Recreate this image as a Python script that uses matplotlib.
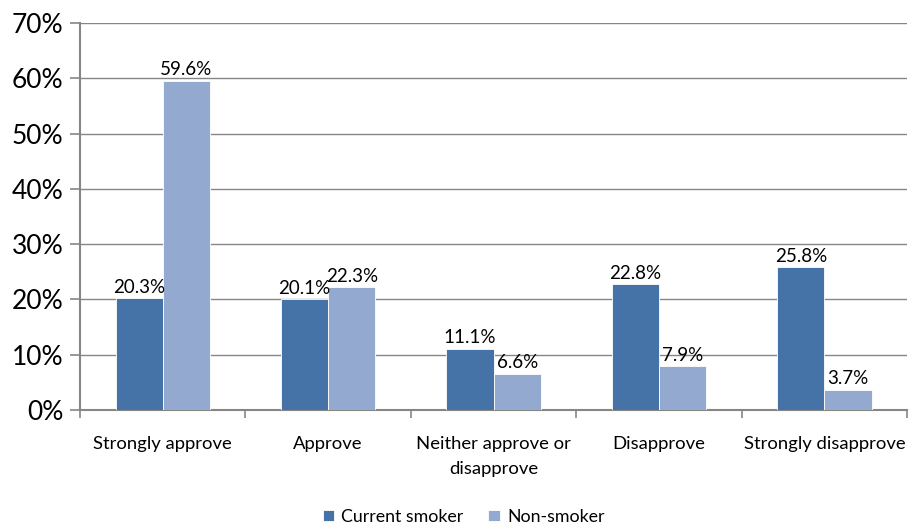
import matplotlib
matplotlib.use('Agg')
from matplotlib import pyplot as plt
import numpy as np

plt.rcParams['font.family'] = ['Lato', 'DejaVu Sans']

categories = ['Strongly approve', 'Approve', 'Neither approve or\ndisapprove',
              'Disapprove', 'Strongly disapprove']
current_smoker = [20.3, 20.1, 11.1, 22.8, 25.8]
non_smoker = [59.6, 22.3, 6.6, 7.9, 3.7]
y_ticks = [0, 10, 20, 30, 40, 50, 60, 70]

fig = plt.figure(figsize=(9.09, 5.26), dpi=100)
ax = fig.add_axes([0.088, 0.2205, 0.91, 0.7355])

x = np.arange(len(categories))
w = 0.285
dark = '#4573a7'
light = '#94a9d0'
b1 = ax.bar(x - w/2, current_smoker, w, color=dark, edgecolor='white', linewidth=0.6,
            label='Current smoker', zorder=3)
b2 = ax.bar(x + w/2, non_smoker, w, color=light, edgecolor='white', linewidth=0.6,
            label='Non-smoker', zorder=3)
for bars, vals in [(b1, current_smoker), (b2, non_smoker)]:
    for b, v in zip(bars, vals):
        ax.text(b.get_x() + b.get_width()/2, v + 0.4, '%.1f%%' % v,
                ha='center', va='bottom', fontsize=13.5, color='black')

ax.set_xlim(-0.5, len(categories) - 0.5)
ax.set_ylim(0, 70)
ax.set_yticks(y_ticks)
ax.set_yticklabels(['%d%%' % t for t in y_ticks], fontsize=19)
ax.set_xticks(x)
ax.set_xticklabels(categories, fontsize=13.3, linespacing=1.65)
ax.set_xticks(np.arange(-0.5, len(categories), 1), minor=True)
ax.tick_params(axis='x', which='major', length=0, pad=19)
ax.tick_params(axis='x', which='minor', length=6, color='#868686', width=1.2, direction='out')
ax.tick_params(axis='y', length=7, color='#868686', width=1.2, pad=5)
ax.grid(axis='y', color='#868686', linewidth=1.0, zorder=0)
for s in ['top', 'right']:
    ax.spines[s].set_visible(False)
for s in ['left', 'bottom']:
    ax.spines[s].set_color('#868686')
    ax.spines[s].set_linewidth(1.5)

fig.legend(handles=[b1, b2], loc='lower center', ncol=2, frameon=False,
           fontsize=12.8, handlelength=0.65, handleheight=0.65, handletextpad=0.4,
           columnspacing=1.4, bbox_to_anchor=(0.51, -0.028))

fig.savefig('out.png', dpi=100)
